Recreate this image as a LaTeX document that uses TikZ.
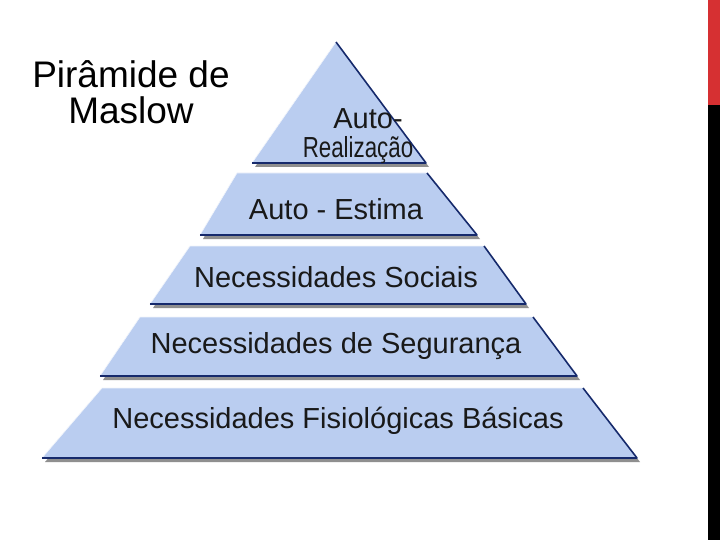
\documentclass[tikz,border=0pt]{standalone}
\usepackage{fontspec}
\setmainfont{Liberation Sans}
\usepackage{xcolor}
\usepackage{tikz}
\usetikzlibrary{shadows}

\definecolor{tierblue}{RGB}{186,205,240}
\definecolor{tieredge}{RGB}{22,42,108}
\definecolor{barred}{RGB}{214,48,50}

\tikzset{
  tier/.style={fill=tierblue, draw=white!80!tierblue, line width=0.6pt,
    drop shadow={shadow xshift=3pt, shadow yshift=-4pt, opacity=0.55, fill=black!80}},
  tieredge/.style={draw=tieredge, line width=1.6pt, line join=round},
  label/.style={font=\fontsize{29}{31}\selectfont, text=black!90, align=center}
}

\begin{document}
\begin{tikzpicture}[x=1pt, y=-1pt]
\useasboundingbox (0,0) rectangle (720,540);
\fill[white] (0,0) rectangle (720,540);
% slide bar on the right
\fill[barred] (708,0) rectangle (720,105);
\fill[black] (708,105) rectangle (720,540);

% tiers, bottom to top
\draw[tier] (42,458) -- (102,388) -- (583,388) -- (637,458) -- cycle;
\draw[tieredge] (583,388) -- (637,458) -- (42,458);
\draw[tier] (100,376) -- (140,317) -- (533,317) -- (577,376) -- cycle;
\draw[tieredge] (533,317) -- (577,376) -- (100,376);
\draw[tier] (150,304) -- (190,246) -- (484,246) -- (526,304) -- cycle;
\draw[tieredge] (484,246) -- (526,304) -- (150,304);
\draw[tier] (200,235) -- (237,173) -- (427,173) -- (477,235) -- cycle;
\draw[tieredge] (427,173) -- (477,235) -- (200,235);
\draw[tier] (252,163) -- (336,42) -- (426,163) -- cycle;
\draw[tieredge] (336,42) -- (426,163) -- (252,163);

\node[label, anchor=base, inner sep=0pt] (auto) at (368,129) {Auto-};
\node[label, anchor=base, inner sep=0pt] (real) at (358,158) {\scalebox{0.77}[1]{Realização}};
\node[label] (autoe) at (336,209) {Auto - Estima};
\node[label] (soc) at (336,277) {Necessidades Sociais};
\node[label] (seg) at (336,346) {Necessidades de Segurança};
\node[label] (fis) at (338,421) {Necessidades Fisiológicas Básicas};

\node[font=\fontsize{37}{36}\selectfont, align=center] (title) at (131,92) {Pirâmide de\\Maslow};
\end{tikzpicture}
\end{document}
